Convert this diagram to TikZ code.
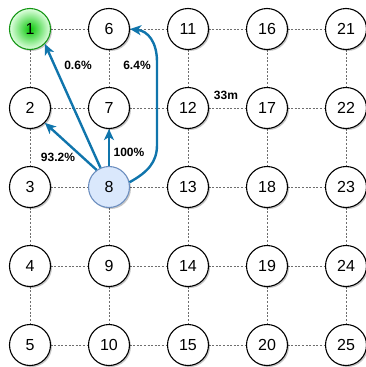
\documentclass[tikz,border=0pt]{standalone}
\usepackage{fontspec}
\setmainfont{Liberation Sans}
\usetikzlibrary{arrows.meta,shadows}
\definecolor{arrowblue}{RGB}{16,117,172}
\definecolor{gridgray}{RGB}{110,110,110}
\definecolor{greenborder}{RGB}{20,150,20}
\definecolor{greeninner}{RGB}{10,200,10}
\definecolor{greenouter}{RGB}{225,255,225}
\definecolor{bluefill}{RGB}{218,232,252}
\definecolor{blueborder}{RGB}{108,142,191}
\tikzset{
  cellnode/.style={circle, draw=black, line width=1.1pt, fill=white, minimum size=41pt, inner sep=0pt,
    font=\fontsize{16}{18}\selectfont,
    drop shadow={shadow xshift=1.5pt, shadow yshift=-1.5pt, fill=black, opacity=0.22}},
  startnode/.style={cellnode, draw=greenborder, shading=radial, inner color=greeninner, outer color=greenouter},
  curnode/.style={cellnode, draw=blueborder, fill=bluefill},
  gridline/.style={draw=gridgray, line width=0.6pt, dash pattern=on 2pt off 1.6pt},
  flow/.style={draw=arrowblue, line width=2.4pt, -{Stealth[length=11pt,width=10pt,inset=3pt]}},
  lbl/.style={font=\fontsize{12}{14}\selectfont\bfseries, inner sep=0pt}
}
\begin{document}
\begin{tikzpicture}[x=1pt,y=-1pt]
\useasboundingbox (0,0) rectangle (366,367);
\foreach \c in {0,...,4} {
  \foreach \r in {0,...,4} {
    \pgfmathtruncatemacro{\n}{\c*5+\r+1}
    \coordinate (p\n) at ({30+79*\c},{29+79*\r});
  }
}
\foreach \c in {0,...,4} {
  \foreach \r in {0,...,3} {
    \pgfmathtruncatemacro{\n}{\c*5+\r+1}
    \pgfmathtruncatemacro{\m}{\n+1}
    \draw[gridline] ([yshift=-20.5pt]p\n) -- ([yshift=20.5pt]p\m);
  }
}
\foreach \c in {0,...,3} {
  \foreach \r in {0,...,4} {
    \pgfmathtruncatemacro{\n}{\c*5+\r+1}
    \pgfmathtruncatemacro{\m}{\n+5}
    \draw[gridline] ([xshift=20.5pt]p\n) -- ([xshift=-20.5pt]p\m);
  }
}
\foreach \c in {0,...,4} {
  \foreach \r in {0,...,4} {
    \pgfmathtruncatemacro{\n}{\c*5+\r+1}
    \ifnum\n=1
      \node[startnode] (n\n) at (p\n) {\n};
    \else\ifnum\n=8
      \node[curnode] (n\n) at (p\n) {\n};
    \else
      \node[cellnode] (n\n) at (p\n) {\n};
    \fi\fi
  }
}
\draw[flow] (n8.114) -- (n1.-45);
\draw[flow] (n8.126) -- (n2.-45);
\draw[flow] (n8.north) -- (n7.south);
\coordinate (b1) at (157,145);
\coordinate (b2) at (157,62);
\draw[flow] (n8.13) .. controls (148,172) and (157,162) .. (b1) -- (b2) .. controls (157,42) and (148,31) .. (n6.east);
\node[lbl] (l1) at (78,65) {0.6\%};
\node[lbl] (l6) at (137,65) {6.4\%};
\node[lbl] (l2) at (58,157) {93.2\%};
\node[lbl] (l7) at (129,152) {100\%};
\node[lbl] (ld) at (226,95) {33m};
\end{tikzpicture}
\end{document}
